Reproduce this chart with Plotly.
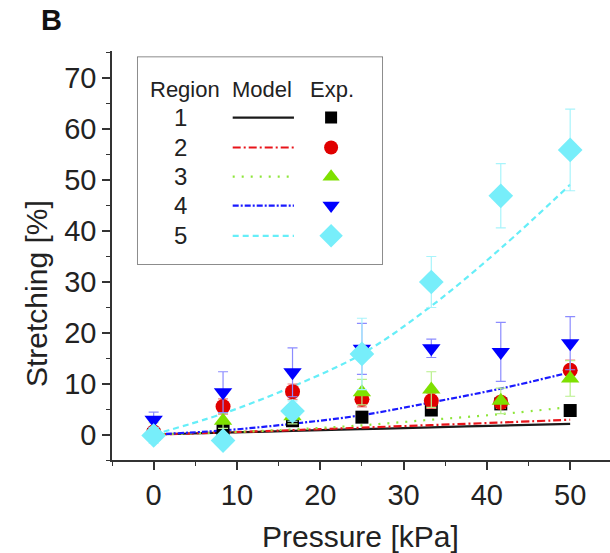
import plotly.graph_objects as go

# ---------------- data ----------------
pressure = [0, 8.33, 16.67, 25, 33.33, 41.67, 50]
regions = ["1", "2", "3", "4", "5"]

model_1 = [0, 0.35, 0.7, 1.05, 1.4, 1.75, 2.1]
model_2 = [0, 0.4, 0.85, 1.35, 1.85, 2.35, 2.9]
model_3 = [0, 0.4, 1.0, 1.8, 2.9, 4.0, 5.4]
model_4 = [0, 0.8, 2.1, 3.8, 6.3, 9.0, 12.2]
model_5 = [0, 4.1, 9.4, 15.8, 25.2, 36.5, 49.0]

exp_1 = [0.0, 0.9, 2.7, 3.4, 4.8, 6.0, 4.7]
exp_2 = [0.5, 5.5, 8.4, 6.9, 6.6, 6.3, 12.6]
exp_3 = [0.8, 2.7, 3.6, 8.3, 8.8, 6.6, 11.0]
exp_4 = [2.9, 8.3, 12.2, 16.8, 16.9, 16.2, 17.9]
exp_5 = [-0.2, -1.2, 4.6, 15.8, 29.9, 46.8, 55.8]

err_1 = [0.5, 0.5, 0.8, 0.8, 1.0, 1.0, 1.0]
err_2 = [0.8, 1.5, 1.5, 1.5, 1.5, 1.2, 2.0]
err_3 = [1.5, 1.5, 1.5, 2.5, 3.5, 2.5, 3.5]
err_4 = [1.5, 4.0, 4.8, 5.0, 1.8, 5.8, 5.2]
err_5 = [1.5, 1.0, 2.0, 7.0, 5.0, 6.3, 8.0]

x_ticks = [0, 10, 20, 30, 40, 50]
y_ticks = [0, 10, 20, 30, 40, 50, 60, 70]

models = [model_1, model_2, model_3, model_4, model_5]
exps = [exp_1, exp_2, exp_3, exp_4, exp_5]
errs = [err_1, err_2, err_3, err_4, err_5]

# ---------------- styles ----------------
line_colors = ["#1a1a1a", "#e8141a", "#8ee63a", "#1a1aff", "#66eef8"]
marker_colors = ["#000000", "#e00000", "#7ee000", "#0000ff", "#77eefa"]
err_colors = ["#555555", "#f08080", "#b8f08a", "#8c8cff", "#a8f4fb"]
dashes = ["solid", "8px,3px,2px,3px", "2px,7px", "6px,2px,2px,2px", "6px,4px"]
symbols = ["square", "circle", "triangle-up", "triangle-down", "diamond"]
msizes = [13, 15, 16, 16, 19]

FONT = "Liberation Sans, Arial, sans-serif"
TXT = "#222222"

fig = go.Figure()

# model curves
for i in range(5):
    fig.add_trace(go.Scatter(
        x=pressure, y=models[i], mode="lines", line_shape="spline",
        line=dict(color=line_colors[i], width=2.2, dash=dashes[i]),
        showlegend=False, hoverinfo="skip"))

# experimental points
for i in range(5):
    fig.add_trace(go.Scatter(
        x=pressure, y=exps[i], mode="markers",
        marker=dict(symbol=symbols[i], size=msizes[i], color=marker_colors[i],
                    line=dict(width=0)),
        error_y=dict(type="data", array=errs[i], color=err_colors[i],
                     thickness=1.2, width=5),
        showlegend=False))

# ---------------- custom legend (own small axes) ----------------
leg_rows = [0.707, 0.563, 0.423, 0.284, 0.139]
for i in range(5):
    fig.add_trace(go.Scatter(
        x=[0.389, 0.638], y=[leg_rows[i], leg_rows[i]], mode="lines",
        line=dict(color=line_colors[i], width=2.2, dash=dashes[i]),
        xaxis="x2", yaxis="y2", showlegend=False, hoverinfo="skip"))
    fig.add_trace(go.Scatter(
        x=[0.789], y=[leg_rows[i]], mode="markers",
        marker=dict(symbol=symbols[i], size=msizes[i] - 1, color=marker_colors[i]),
        xaxis="x2", yaxis="y2", showlegend=False, hoverinfo="skip"))
    fig.add_annotation(x=0.175, y=leg_rows[i], xref="x2", yref="y2",
                       text=regions[i], showarrow=False,
                       xanchor="center", yanchor="middle",
                       font=dict(size=24, color=TXT, family=FONT))

for txt, xx in [("Region", 0.194), ("Model", 0.507), ("Exp.", 0.792)]:
    fig.add_annotation(x=xx, y=0.841, xref="x2", yref="y2", text=txt,
                       showarrow=False, xanchor="center", yanchor="middle",
                       font=dict(size=22, color=TXT, family=FONT))

fig.add_shape(type="rect", xref="x2", yref="y2", x0=0, x1=1, y0=0, y1=1,
              line=dict(color="#666666", width=1.5), fillcolor="rgba(0,0,0,0)")

# panel label
fig.add_annotation(x=(51 - 112) / 498, y=(460 - 20) / 409, xref="paper", yref="paper",
                   text="<b>B</b>", showarrow=False, xanchor="center", yanchor="middle",
                   font=dict(size=29, color="#111111", family=FONT))

# axis titles
fig.add_annotation(x=(360 - 112) / 498, y=(460 - 536) / 409, xref="paper", yref="paper",
                   text="Pressure [kPa]", showarrow=False,
                   xanchor="center", yanchor="middle",
                   font=dict(size=30, color=TXT, family=FONT))
fig.add_annotation(x=(36 - 112) / 498, y=(460 - 294) / 409, xref="paper", yref="paper",
                   text="Stretching [%]", showarrow=False, textangle=-90,
                   xanchor="center", yanchor="middle",
                   font=dict(size=30, color=TXT, family=FONT))

axis_common = dict(
    showline=True, linecolor="#333333", linewidth=1.5, showgrid=False,
    zeroline=False, ticks="outside", ticklen=8, tickwidth=1.5, tickcolor="#333333",
    minor=dict(ticks="outside", ticklen=4, tickwidth=1.2, tickcolor="#333333", dtick=5),
)

fig.update_layout(
    width=610, height=553,
    margin=dict(l=112, r=0, t=51, b=93),
    plot_bgcolor="white", paper_bgcolor="white",
    xaxis=dict(range=[-5, 54.78], tickvals=x_ticks, **axis_common),
    yaxis=dict(range=[-5, 75.2], tickvals=y_ticks, **axis_common),
    xaxis2=dict(domain=[0.0502, 0.5442], range=[0, 1], visible=False, anchor="y2",
                fixedrange=True),
    yaxis2=dict(domain=[0.4774, 0.9865], range=[0, 1], visible=False, anchor="x2",
                fixedrange=True),
)
fig.update_xaxes(tickfont=dict(size=29, color=TXT, family=FONT), selector=dict(anchor="y"))
fig.update_yaxes(tickfont=dict(size=29, color=TXT, family=FONT), selector=dict(anchor="x"))
fig.layout.xaxis.tickfont = dict(size=29, color=TXT, family=FONT)
fig.layout.yaxis.tickfont = dict(size=29, color=TXT, family=FONT)

fig.write_html("out.html")
